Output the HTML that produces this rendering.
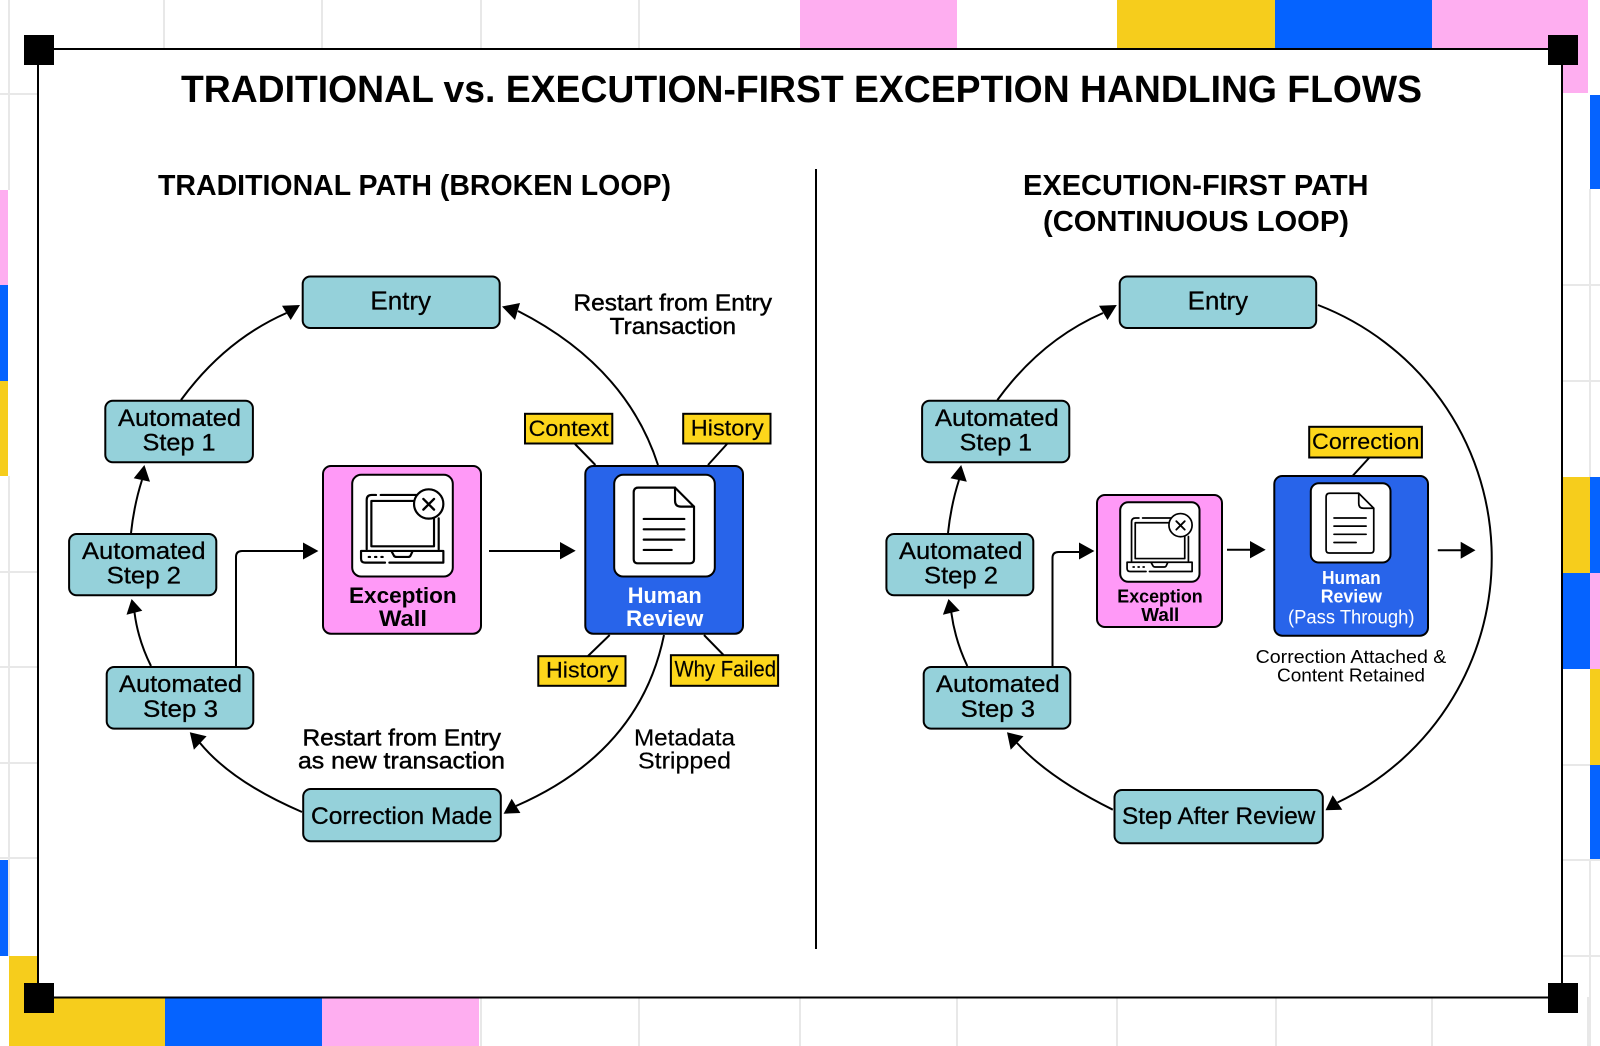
<!DOCTYPE html>
<html><head><meta charset="utf-8"><style>
html,body{margin:0;padding:0;background:#fff}
svg{display:block}
text{font-family:"Liberation Sans",sans-serif;fill:#000}
.n{font-size:24px;stroke:#000;stroke-width:.3}
.f{font-size:23px;stroke:#000;stroke-width:.45}
.l{font-size:22px;stroke:#000;stroke-width:.15}
.b{font-weight:bold}
.c{fill:none;stroke:#000;stroke-width:2}
.box{fill:#95d1da;stroke:#000;stroke-width:2}
.y{fill:#fdd61b;stroke:#000;stroke-width:2}
.p{fill:#ff99f7;stroke:#000;stroke-width:2}
.h{fill:#2864ea;stroke:#000;stroke-width:2}
.w{fill:#fff;stroke:#000;stroke-width:2}
</style></head><body>
<svg width="1600" height="1046" viewBox="0 0 1600 1046" xmlns="http://www.w3.org/2000/svg">
<defs>
<g id="lap" fill="none" stroke="#000" stroke-linecap="round" stroke-linejoin="round">
<path d="M170 298V150Q170 135 185 135H198M212 135H322" stroke-width="6.500"/>
<path d="M386 205V298" stroke-width="6.500"/>
<rect x="184" y="153" width="188" height="136" stroke-width="6.500"/>
<path d="M225 338H165Q153 338 153 326V303H400V338H238" stroke-width="6.500"/>
<path d="M245 305L251 316Q253 321 260 321H294Q300 321 302 316L307 305" stroke-width="6.500"/>
<path d="M176 321H180M195 321H199M214 321H218" stroke-width="6.500"/>
<circle cx="356" cy="162" r="44" fill="#fff" stroke-width="6.500"/>
<path d="M340 147L372 179M372 147L340 179" stroke-width="7"/>
</g>
<g id="doc" fill="none" stroke="#000" stroke-linecap="round" stroke-linejoin="round" stroke-width="6.500">
<path d="M985 113H1095L1152 170V328Q1152 340 1140 340H983Q971 340 971 328V127Q971 113 985 113Z"/>
<path d="M1095 113V152Q1095 170 1113 170H1152"/>
<path d="M1001 207H1123M1001 238H1123M1001 269H1123M1001 300H1085"/>
</g>
</defs>
<rect width="1600" height="1046" fill="#fff"/>
<g fill="#feaef0">
<rect x="800" y="0" width="157" height="50"/>
<rect x="1432" y="0" width="156" height="50"/>
<rect x="1562" y="0" width="26" height="93"/>
<rect x="0" y="190" width="8" height="95"/>
<rect x="322" y="997" width="157" height="49"/>
<rect x="1590" y="573" width="10" height="96"/>
</g>
<g fill="#f6cd1c">
<rect x="1117" y="0" width="158" height="50"/>
<rect x="0" y="381" width="8" height="95"/>
<rect x="9" y="956" width="30" height="90"/>
<rect x="9" y="997" width="156" height="49"/>
<rect x="1562" y="477" width="28" height="96"/>
<rect x="1590" y="669" width="10" height="96"/>
</g>
<g fill="#0563ff">
<rect x="1275" y="0" width="157" height="50"/>
<rect x="0" y="285" width="8" height="96"/>
<rect x="0" y="860" width="8" height="96"/>
<rect x="165" y="997" width="157" height="49"/>
<rect x="1590" y="95" width="10" height="94"/>
<rect x="1590" y="477" width="10" height="96"/>
<rect x="1562" y="573" width="28" height="96"/>
<rect x="1590" y="765" width="10" height="95"/>
</g>
<g stroke="#e8e8e8" stroke-width="2" fill="none">
<path d="M9 0V190M9 476V956M164 0V50M322 0V50M481 0V50M639 0V50M481 997V1046M639 997V1046M800 997V1046M957 997V1046M1117 997V1046M1276 997V1046M1432 997V1046M1588 997V1046"/>
<path d="M0 94H38M0 572H38M0 667H38M0 763H38M0 858H38M1562 285H1600M1562 381H1600M1562 765H1590M1562 860H1600M1562 956H1600M1590 189V477M1590 860V1046"/>
</g>
<rect x="38" y="49" width="1524" height="948.500" fill="#fff" stroke="#000" stroke-width="2"/>
<rect x="24" y="35" width="30" height="30"/>
<rect x="1548" y="35" width="30" height="30"/>
<rect x="24" y="983" width="30" height="30"/>
<rect x="1548" y="983" width="30" height="30"/>

<text x="181" y="102" class="b" font-size="38" textLength="1241" lengthAdjust="spacingAndGlyphs">TRADITIONAL vs. EXECUTION-FIRST EXCEPTION HANDLING FLOWS</text>
<text x="158" y="195" class="b" font-size="29" textLength="513" lengthAdjust="spacingAndGlyphs">TRADITIONAL PATH (BROKEN LOOP)</text>
<text x="1023" y="195" class="b" font-size="29" textLength="345.500" lengthAdjust="spacingAndGlyphs">EXECUTION-FIRST PATH</text>
<text x="1043" y="231" class="b" font-size="29" textLength="306" lengthAdjust="spacingAndGlyphs">(CONTINUOUS LOOP)</text>
<path d="M816 169V949" stroke="#000" stroke-width="2"/>

<!-- left connectors -->
<g class="c">
<path d="M181 400Q225 340 286.500 313"/>
<path d="M658 465Q626 366 518 311"/>
<path d="M131 533Q134 505 142 480"/>
<path d="M151 666Q138 640 134.500 612.500"/>
<path d="M302 812Q232 782 200 743"/>
<path d="M664 635Q640 752 516 806"/>
<path d="M236 666V557Q236 551 242 551H304"/>
<path d="M489 551H561"/>
<path d="M575 444L595.400 465M727 444L708 465M609.700 635L588 656M704 635L723.500 655"/>
</g>
<polygon points="300,305 282,305.700 290.700,320"/>
<polygon points="502,306.500 520,303 515,320"/>
<polygon points="144.400,465 133.700,478.300 150,481.700"/>
<polygon points="131.600,599 126.500,614.700 142.300,610.700"/>
<polygon points="189.800,732.300 206.600,736.300 193.900,749.700"/>
<polygon points="503.600,813.700 520.400,813 511.700,798.700"/>
<polygon points="303,542.500 318.400,551 303,559.500"/>
<polygon points="560,542 575.700,550.700 560,559.400"/>

<!-- left nodes -->
<rect class="box" x="302.700" y="276.500" width="197" height="51.500" rx="7.500"/>
<rect class="box" x="105.300" y="400.700" width="147.600" height="61.600" rx="7.500"/>
<rect class="box" x="69.100" y="534" width="147.200" height="61.300" rx="7.500"/>
<rect class="box" x="106.700" y="667" width="146.600" height="61.600" rx="7.500"/>
<rect class="box" x="303.200" y="789" width="197.600" height="52.300" rx="7.500"/>
<text x="370.400" y="309.300" class="n" style="font-size:26px" textLength="60.600" lengthAdjust="spacingAndGlyphs">Entry</text>
<text x="118" y="426" class="n" textLength="123" lengthAdjust="spacingAndGlyphs">Automated</text>
<text x="142.500" y="450.700" class="n" textLength="73" lengthAdjust="spacingAndGlyphs">Step 1</text>
<text x="82" y="559" class="n" textLength="123.600" lengthAdjust="spacingAndGlyphs">Automated</text>
<text x="106.600" y="583.700" class="n" textLength="74.400" lengthAdjust="spacingAndGlyphs">Step 2</text>
<text x="119" y="692" class="n" textLength="123" lengthAdjust="spacingAndGlyphs">Automated</text>
<text x="143" y="717" class="n" textLength="75" lengthAdjust="spacingAndGlyphs">Step 3</text>
<text x="311" y="824" class="n" textLength="181.300" lengthAdjust="spacingAndGlyphs">Correction Made</text>

<rect class="p" x="323" y="466" width="158" height="167.700" rx="8"/>
<rect class="w" x="352.200" y="474.800" width="100.600" height="101.700" rx="9"/>
<use href="#lap" transform="translate(351.700,474.300) scale(.3333) translate(-125,-73)"/>
<text x="349" y="603" class="b" font-size="22" textLength="107.700" lengthAdjust="spacingAndGlyphs">Exception</text>
<text x="379" y="626" class="b" font-size="22" textLength="48" lengthAdjust="spacingAndGlyphs">Wall</text>

<rect class="h" x="585.300" y="466" width="157.700" height="167.700" rx="8"/>
<rect class="w" x="614.200" y="474.800" width="100.600" height="101.700" rx="9"/>
<use href="#doc" transform="translate(613.700,474.300) scale(.3333) translate(-911,-73)"/>
<text x="627.700" y="603" class="b" font-size="22" style="fill:#fff" textLength="74" lengthAdjust="spacingAndGlyphs">Human</text>
<text x="626" y="626" class="b" font-size="22" style="fill:#fff" textLength="77.300" lengthAdjust="spacingAndGlyphs">Review</text>

<rect class="y" x="525" y="413.800" width="87.300" height="29.700"/>
<rect class="y" x="683.200" y="413.800" width="87.300" height="29.700"/>
<rect class="y" x="538.300" y="656.200" width="87.200" height="29.600"/>
<rect class="y" x="670.900" y="655.200" width="107.200" height="30.600"/>
<text x="528.600" y="436" class="l" textLength="80.100" lengthAdjust="spacingAndGlyphs">Context</text>
<text x="690.800" y="435.500" class="l" textLength="73" lengthAdjust="spacingAndGlyphs">History</text>
<text x="546" y="677.300" class="l" textLength="72.400" lengthAdjust="spacingAndGlyphs">History</text>
<text x="674.500" y="676.300" class="l" textLength="101.500" lengthAdjust="spacingAndGlyphs">Why Failed</text>

<text x="573.500" y="310.700" class="f" textLength="198.500" lengthAdjust="spacingAndGlyphs">Restart from Entry</text>
<text x="609.700" y="334" class="f" textLength="126.300" lengthAdjust="spacingAndGlyphs">Transaction</text>
<text x="302.500" y="745.300" class="f" textLength="198.500" lengthAdjust="spacingAndGlyphs">Restart from Entry</text>
<text x="298" y="768.700" class="f" textLength="207" lengthAdjust="spacingAndGlyphs">as new transaction</text>
<text x="634" y="745.300" class="f" style="stroke-width:.2" textLength="101" lengthAdjust="spacingAndGlyphs">Metadata</text>
<text x="638" y="768.700" class="f" style="stroke-width:.2" textLength="93" lengthAdjust="spacingAndGlyphs">Stripped</text>

<!-- right connectors -->
<g class="c">
<path d="M997.400 400Q1041 340 1103 313"/>
<path d="M948 533Q951 505 959 480"/>
<path d="M967.300 666Q955 640 951.300 612.500"/>
<path d="M1112.800 809.700Q1049 778 1017 743"/>
<path d="M1318 305A271 271 0 0 1 1337.500 802.500"/>
<path d="M1052.500 666V558Q1052.500 552 1058.500 552H1080"/>
<path d="M1227 549.700H1251"/>
<path d="M1437.800 550.300H1461"/>
<path d="M1369 458L1352.500 476"/>
</g>
<polygon points="1116.800,305 1099,305.700 1107.500,320"/>
<polygon points="961.200,465 950.500,478.300 966.800,481.700"/>
<polygon points="948.500,599 942.900,614.700 959.700,610.700"/>
<polygon points="1007,732.300 1023.500,736.300 1010.700,749.700"/>
<polygon points="1325.500,810.300 1342.300,809.700 1332.700,795.300"/>
<polygon points="1079,542.500 1094.400,551 1079,559.500"/>
<polygon points="1250,541 1265.700,549.700 1250,558.400"/>
<polygon points="1460.700,541.800 1475.500,550.300 1460.700,558.800"/>

<!-- right nodes -->
<rect class="box" x="1119.700" y="276.500" width="196.500" height="51.500" rx="7.500"/>
<rect class="box" x="922.100" y="400.700" width="147.200" height="61.600" rx="7.500"/>
<rect class="box" x="886.400" y="534" width="146.900" height="61.300" rx="7.500"/>
<rect class="box" x="923.700" y="667" width="146.600" height="61.600" rx="7.500"/>
<rect class="box" x="1114.500" y="790" width="208.300" height="53.300" rx="7.500"/>
<text x="1187.800" y="309.300" class="n" style="font-size:26px" textLength="60.200" lengthAdjust="spacingAndGlyphs">Entry</text>
<text x="935" y="426" class="n" textLength="123.700" lengthAdjust="spacingAndGlyphs">Automated</text>
<text x="959.700" y="450.700" class="n" textLength="72.300" lengthAdjust="spacingAndGlyphs">Step 1</text>
<text x="899" y="559" class="n" textLength="123.500" lengthAdjust="spacingAndGlyphs">Automated</text>
<text x="924" y="583.700" class="n" textLength="74" lengthAdjust="spacingAndGlyphs">Step 2</text>
<text x="936" y="692" class="n" textLength="123.700" lengthAdjust="spacingAndGlyphs">Automated</text>
<text x="960.700" y="717" class="n" textLength="74.300" lengthAdjust="spacingAndGlyphs">Step 3</text>
<text x="1122" y="824" class="n" textLength="193.300" lengthAdjust="spacingAndGlyphs">Step After Review</text>

<rect class="p" x="1097" y="495" width="125" height="132" rx="8"/>
<rect class="w" x="1120.200" y="502.200" width="79.300" height="79.600" rx="8"/>
<use href="#lap" transform="translate(1119.700,501.700) scale(.2633) translate(-125,-73)"/>
<text x="1117.300" y="602.700" class="b" font-size="18" textLength="85.400" lengthAdjust="spacingAndGlyphs">Exception</text>
<text x="1141.300" y="621" class="b" font-size="18" textLength="38" lengthAdjust="spacingAndGlyphs">Wall</text>

<rect class="h" x="1274.300" y="476" width="153.700" height="159.700" rx="8"/>
<rect class="w" x="1310.800" y="483.200" width="79.700" height="79.300" rx="8"/>
<use href="#doc" transform="translate(1310.300,482.700) scale(.2633) translate(-911,-73)"/>
<text x="1322" y="584" class="b" font-size="18" style="fill:#fff" textLength="58.700" lengthAdjust="spacingAndGlyphs">Human</text>
<text x="1320.700" y="602.300" class="b" font-size="18" style="fill:#fff" textLength="61.300" lengthAdjust="spacingAndGlyphs">Review</text>
<text x="1288" y="623.300" font-size="19" style="fill:#fff" textLength="126.500" lengthAdjust="spacingAndGlyphs">(Pass Through)</text>

<rect class="y" x="1309.200" y="426.800" width="112.700" height="30.700"/>
<text x="1312" y="449" class="l" textLength="107.400" lengthAdjust="spacingAndGlyphs">Correction</text>
<text x="1255.600" y="663" font-size="18.500" textLength="190.800" lengthAdjust="spacingAndGlyphs">Correction Attached &amp;</text>
<text x="1277" y="681.300" font-size="18.500" textLength="148" lengthAdjust="spacingAndGlyphs">Content Retained</text>
</svg>
</body></html>
